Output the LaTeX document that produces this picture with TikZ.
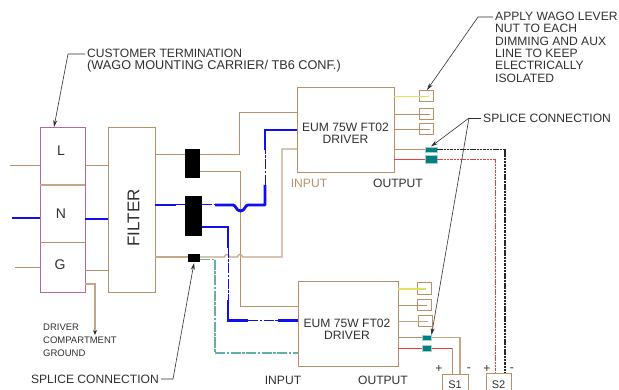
\documentclass[tikz,border=0pt]{standalone}
\usepackage{fontspec}
\setmainfont{Liberation Sans}
\usetikzlibrary{arrows.meta}
\definecolor{brn}{HTML}{B8916A}
\definecolor{tanw}{HTML}{C4A688}
\definecolor{mag}{HTML}{B8689A}
\definecolor{blu}{HTML}{0F0FF0}
\definecolor{teal1}{HTML}{008080}
\definecolor{teal2}{HTML}{62B0AB}
\definecolor{rd}{HTML}{F03C3C}
\definecolor{yel}{HTML}{E2E25A}
\definecolor{ink}{HTML}{303030}
\tikzset{
  x=1pt,y=-1pt,
  wire/.style={draw=brn,line width=1pt},
  tanwire/.style={draw=tanw,line width=1.2pt},
  redw/.style={draw=rd,line width=1.3pt},
  yelw/.style={draw=yel,line width=1.3pt},
  thickblue/.style={draw=blu,line width=2.8pt},
  thinblue/.style={draw=blu,line width=1pt,dash pattern=on 10pt off 1.5pt on 2.5pt off 1.5pt},
  tealw/.style={draw=teal2,line width=1.1pt,dash pattern=on 10pt off 1.5pt on 2.5pt off 1.5pt},
  blackdash/.style={draw=black!85,line width=1.2pt,dash pattern=on 2.5pt off 0.8pt},
  reddash/.style={draw=rd,line width=1.2pt,dash pattern=on 2.5pt off 0.8pt},
  leader/.style={draw=ink,line width=0.6pt,-{Stealth[length=7pt,width=4pt]}},
  leaderplain/.style={draw=ink,line width=0.6pt},
  lab/.style={font=\fontsize{12.1}{12.3}\selectfont,text=ink,inner sep=0pt,align=left},
  brownlab/.style={lab,text=brn},
  outbox/.style={draw=brn,line width=1pt,fill=none,inner sep=0pt,outer sep=0pt},
  blk/.style={fill=black,draw=none,inner sep=0pt,outer sep=0pt},
  spl/.style={fill=teal1,draw=teal2!60,line width=0.4pt,inner sep=0pt,outer sep=0pt},
}
\newcommand{\bx}[6]{\node[#1,minimum width={(#5-#3)*1pt},minimum height={(#6-#4)*1pt}] (#2) at ({(#3+#5)/2},{(#4+#6)/2}) {};}
\begin{document}
\begin{tikzpicture}
\useasboundingbox[fill=white] (0,0) rectangle (619,390);
% main blocks
\bx{outbox,draw=mag}{tb}{40}{128}{85}{293}
\draw[wire] (tb.west |- 0,243) -- (tb.east |- 0,243);
\draw[tanwire] (tb.west |- 0,185) -- (tb.east |- 0,185);
\bx{outbox}{filter}{108}{128}{155}{293}
\bx{outbox}{drvA}{297}{88}{394}{173}
\bx{outbox}{drvB}{298}{282}{398}{366}
\bx{outbox}{sA}{442}{374}{468}{400}
\bx{outbox}{sB}{486}{373}{511}{400}
% blocks
\bx{blk}{bkA}{185}{149}{200}{178}
\bx{blk}{bkB}{185}{196}{202}{236}
\bx{blk}{bkC}{188}{254}{200}{262}
% wago nuts
\bx{outbox}{nA}{419}{91}{433}{102}
\bx{outbox}{nB}{419}{109}{433}{120}
\bx{outbox}{nC}{419}{124}{433}{135}
\bx{outbox}{nD}{417}{283}{431}{295}
\bx{outbox}{nE}{417.5}{300}{431}{311}
\bx{outbox}{nF}{418}{316}{432}{327}
% splices
\bx{spl}{spA}{425}{147}{437}{152.5}
\bx{spl}{spB}{425}{155.5}{437}{163.5}
\bx{spl}{spC}{422}{335}{431.5}{340.5}
\bx{spl}{spD}{422}{345.5}{431.5}{351}
% coordinates for free ends
\coordinate (inL) at (10,166);
\coordinate (inN) at (12,218);
\coordinate (inG) at (15,268);
% terminal wires
\draw[wire] (inL) -- (tb.west |- inL);
\draw[thickblue] (inN) -- (tb.west |- inN);
\draw[wire] (inG) -- (tb.west |- inG);
\draw[wire] (tb.east |- 0,166) -- (filter.west |- 0,166);
\draw[thickblue] (tb.east |- 0,219) -- (filter.west |- 0,219);
\draw[wire] (tb.east |- 0,271) -- (filter.west |- 0,271);
\draw[tanwire,-{Stealth[length=5pt,width=4pt,color=ink]}] (tb.east |- 0,284) -- (95,284) -- (95,335);
% filter to blocks, drivers
\draw[wire] (filter.east |- 0,155) -- (bkA.west |- 0,155);
\draw[wire] (bkA.east |- 0,155) -- (239,155) -- (239,113) -- (drvA.west |- 0,113);
\draw[wire] (bkA.east |- 0,172) -- (240.5,172) -- (240.5,306.5) -- (drvB.west |- 0,306.5);
% third brown with hops
\draw[tanwire] (filter.east |- 0,257) -- (bkC.west |- 0,257);
\draw[tanwire] (bkC.east |- 0,257) -- (224.5,257) arc[start angle=180,end angle=360,radius=2.5]
  -- (237.5,257) arc[start angle=180,end angle=360,radius=2.5] -- (282,257) -- (282,149) -- (drvA.west |- 0,149);
% teal ground dash-dot
\draw[tealw] (bkC.east |- 0,259.5) -- (215,259.5) -- (215,353) -- (drvB.west |- 0,353);
% blue N upper
\draw[thickblue] (filter.east |- 0,205) -- (176,205);
\draw[thinblue] (176,205) -- (bkB.west |- 0,205);
\draw[thinblue] (bkB.east |- 0,205) -- (215,205);
\draw[thickblue,line join=round] (215,205) -- (233,205) .. controls (236,205) and (236,211) .. (240.5,211) .. controls (245,211) and (245,205) .. (248,205) -- (265,205) -- (265,185);
\draw[thinblue] (265,185) -- (265,150);
\draw[thickblue,line join=miter] (265,150) -- (265,130) -- (drvA.west |- 0,130);
% blue N lower
\draw[thickblue] (bkB.east |- 0,227) -- (228,227) -- (228,248);
\draw[thinblue] (228,248) -- (228,300);
\draw[thickblue] (228,300) -- (228,320.5) -- (248,320.5);
\draw[thinblue] (248,320.5) -- (278,320.5);
\draw[thickblue] (278,320.5) -- (drvB.west |- 0,320.5);
% driver A outputs
\draw[yelw] (drvA.east |- nA) -- (429,96.5);
\draw[wire] (drvA.east |- nB) -- (430,114.5);
\draw[wire] (drvA.east |- nC) -- (430,129.5);
\draw[wire] (drvA.east |- spA) -- (spA.west);
\draw[redw] (drvA.east |- spB) -- (spB.west);
\draw[blackdash] (spA.east) -- (505,149.75) -- (505,373);
\draw[reddash] (spB.east) -- (495.5,159.5) -- (495.5,373);
% driver B outputs
\draw[yelw] (drvB.east |- nD) -- (426,289);
\draw[wire] (drvB.east |- nE) -- (427,305.5);
\draw[tanwire] (drvB.east |- nF) -- (428,321.5);
\draw[wire] (drvB.east |- spC) -- (spC.west);
\draw[tanwire] (spC.east) -- (460,337.75) -- (460,374);
\draw[redw] (drvB.east |- spD) -- (spD.west);
\draw[redw] (spD.east) -- (452,348.25);
\draw[wire] (452,348.25) -- (452,374);
% leaders
\draw[leader] (85,54) -- (68,54) -- (54,127);
\draw[leader] (493,17) -- (478,17) -- (427,90);
\coordinate (jn) at (469,118);
\draw[leaderplain] (481,118) -- (jn);
\draw[leader] (jn) -- (431,146.5);
\draw[leader] (jn) -- (431.5,335);
\draw[leader] (161,379) -- (173,379) -- (194,263);
% texts
\node[lab,anchor=base west] at (87,58) {CUSTOMER TERMINATION};
\node[lab,anchor=base west,font=\fontsize{12.7}{13}\selectfont] at (87,70) {(WAGO MOUNTING CARRIER/ TB6 CONF.)};
\node[lab,anchor=north west] at (495,12) {APPLY WAGO LEVER\\NUT TO EACH\\DIMMING AND AUX\\LINE TO KEEP\\ELECTRICALLY\\ISOLATED};
\node[lab,anchor=west] at (483,118) {SPLICE CONNECTION};
\node[lab,anchor=east] at (159,379) {SPLICE CONNECTION};
\node[lab,anchor=north west,font=\fontsize{9.5}{13}\selectfont] at (43,324) {DRIVER\\COMPARTMENT\\GROUND};
\node[lab,font=\fontsize{14}{14}\selectfont] at (61,151) {L};
\node[lab,font=\fontsize{14}{14}\selectfont] at (61,214) {N};
\node[lab,font=\fontsize{14}{14}\selectfont] at (60,265) {G};
\node[lab,rotate=90,font=\fontsize{17}{17}\selectfont] at (133.5,218) {FILTER};
\node[lab,align=center] at (345.5,133) {EUM 75W FT02\\DRIVER};
\node[lab,align=center] at (347,329) {EUM 75W FT02\\DRIVER};
\node[brownlab] at (309,183) {INPUT};
\node[lab] at (398,183) {OUTPUT};
\node[lab] at (283,380) {INPUT};
\node[lab] at (383,380) {OUTPUT};
\node[lab] at (439,369) {+};
\node[lab] at (469,370) {-};
\node[lab] at (487,369) {+};
\node[lab] at (512,370) {-};
\node[lab,font=\fontsize{11}{11}\selectfont] at (455,384.5) {S1};
\node[lab,font=\fontsize{11}{11}\selectfont] at (498.5,384.5) {S2};
\end{tikzpicture}
\end{document}
